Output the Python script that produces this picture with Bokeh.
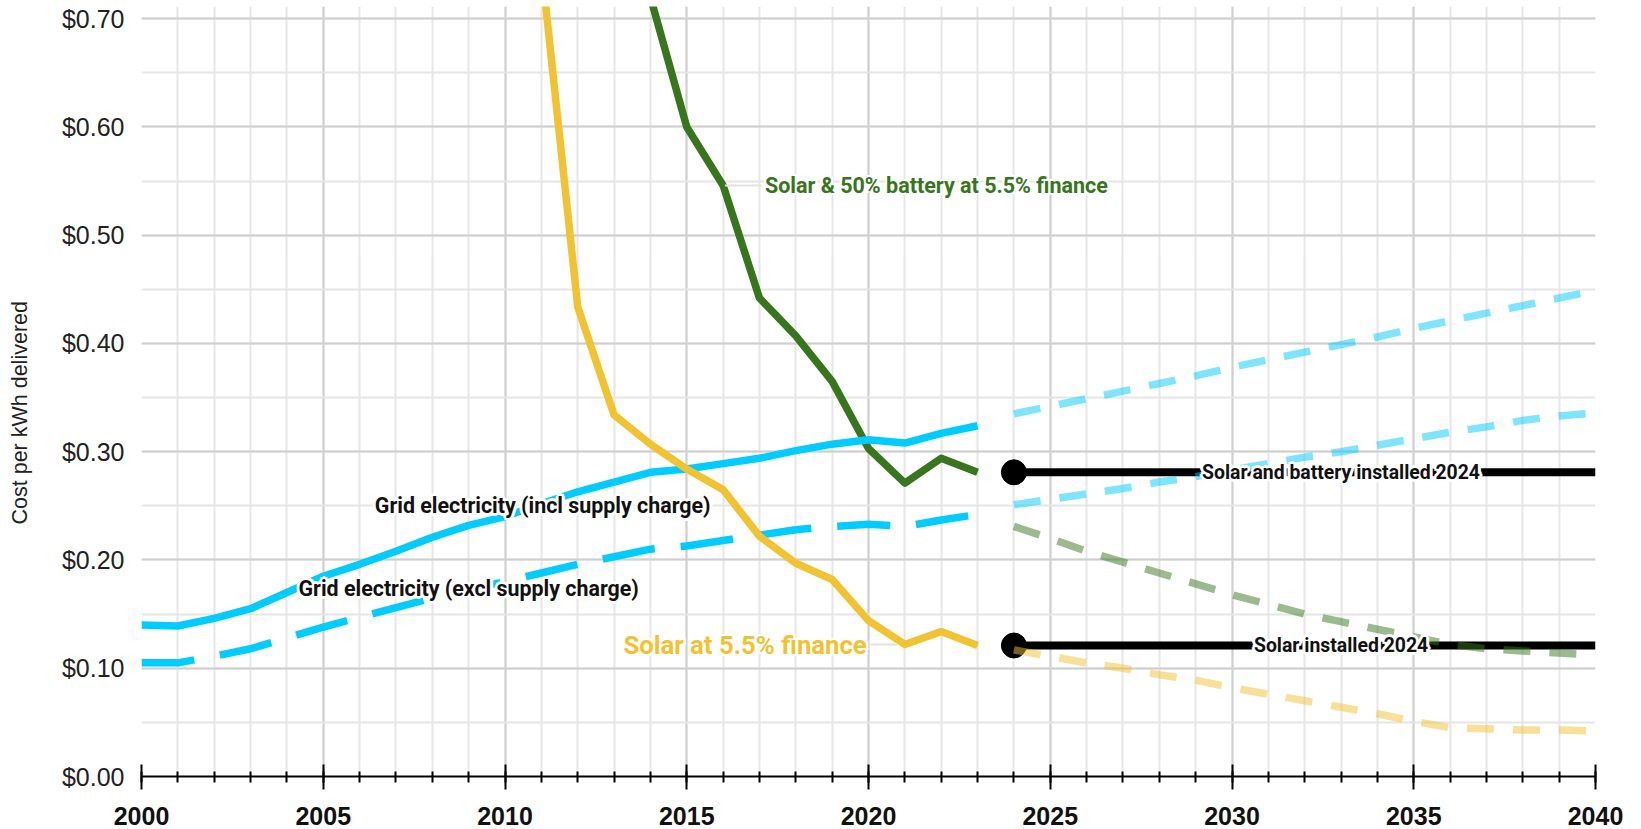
import math
from bokeh.plotting import figure
from bokeh.layouts import row
from bokeh.models import FixedTicker, PrintfTickFormatter, Range1d
from bokeh.embed import file_html
from bokeh.resources import INLINE
from bokeh.core.properties import value

# ---------------- data ----------------
hist_years = list(range(2000, 2024))
grid_incl = [0.140, 0.139, 0.146, 0.155, 0.170, 0.185, 0.196, 0.208, 0.221, 0.232,
             0.240, 0.252, 0.263, 0.272, 0.281, 0.284, 0.289, 0.294, 0.301, 0.307,
             0.311, 0.308, 0.317, 0.324]
grid_excl = [0.105, 0.105, 0.111, 0.118, 0.128, 0.138, 0.147, 0.156, 0.165, 0.173,
             0.180, 0.188, 0.196, 0.203, 0.210, 0.213, 0.218, 0.223, 0.228, 0.231,
             0.233, 0.231, 0.237, 0.242]
solar_years = list(range(2011, 2024))
solar = [0.750, 0.434, 0.334, 0.307, 0.284, 0.265, 0.222, 0.197, 0.182, 0.144,
         0.122, 0.134, 0.121]
sb_years = list(range(2014, 2024))
solar_batt = [0.720, 0.600, 0.546, 0.442, 0.407, 0.365, 0.303, 0.271, 0.294, 0.281]

proj_years = list(range(2024, 2041))
grid_incl_proj = [0.335, 0.342, 0.349, 0.356, 0.363, 0.370, 0.378, 0.385, 0.392,
                  0.399, 0.406, 0.414, 0.421, 0.428, 0.435, 0.442, 0.449]
grid_excl_proj = [0.251, 0.256, 0.261, 0.266, 0.272, 0.277, 0.283, 0.289, 0.295,
                  0.300, 0.306, 0.312, 0.318, 0.323, 0.329, 0.333, 0.336]
solar_batt_proj = [0.231, 0.220, 0.208, 0.198, 0.188, 0.178, 0.168, 0.159, 0.150,
                   0.143, 0.136, 0.129, 0.122, 0.118, 0.116, 0.114, 0.112]
solar_proj = [0.117, 0.111, 0.105, 0.100, 0.094, 0.089, 0.082, 0.076, 0.070,
              0.064, 0.058, 0.051, 0.045, 0.044, 0.043, 0.043, 0.042]

installed_years = [2024, 2040]
solar_batt_installed = [0.281, 0.281]
solar_installed = [0.121, 0.121]

x_ticks = [2000, 2005, 2010, 2015, 2020, 2025, 2030, 2035, 2040]
y_ticks = [0.0, 0.1, 0.2, 0.3, 0.4, 0.5, 0.6, 0.7]
y_title = "Cost per kWh delivered"

CYAN = "#00ccff"
GREEN = "#38761d"
YELLOW = "#f1c232"

Y_END = 0.7113
TITLE_W = 38

# ---------------- narrow strip holding the vertical axis title ----------------
pt = figure(width=TITLE_W, height=829, x_range=Range1d(0, 1), y_range=Range1d(0, Y_END),
            output_backend="svg", toolbar_location=None,
            min_border_left=0, min_border_right=0, min_border_top=6, min_border_bottom=53)
pt.axis.visible = False
pt.grid.visible = False
pt.outline_line_color = None
pt.text(x=[0.5], y=[0.336], text=[y_title], angle=math.pi / 2,
        text_font=value("Liberation Sans"), text_font_size="21.5px",
        text_color="#222222", text_align="center", text_baseline="middle")

# ---------------- main figure ----------------
p = figure(width=1641 - TITLE_W, height=829,
           x_range=Range1d(2000, 2040), y_range=Range1d(0, Y_END),
           output_backend="svg", toolbar_location=None,
           min_border_left=141 - TITLE_W, min_border_right=46,
           min_border_top=6, min_border_bottom=53)
p.outline_line_color = None
p.background_fill_color = "white"

xt = FixedTicker(ticks=x_ticks, minor_ticks=list(range(2000, 2041)))
yt = FixedTicker(ticks=y_ticks, minor_ticks=[i * 0.05 for i in range(15)])
p.xaxis.ticker = xt
p.yaxis.ticker = yt
p.yaxis.formatter = PrintfTickFormatter(format="$%.2f")

p.xaxis.axis_line_color = "black"
p.xaxis.axis_line_width = 2
p.xaxis.major_tick_line_color = "black"
p.xaxis.major_tick_line_width = 2
p.xaxis.major_tick_in = 12
p.xaxis.major_tick_out = 13
p.xaxis.minor_tick_line_color = "black"
p.xaxis.minor_tick_line_width = 2
p.xaxis.minor_tick_in = 5
p.xaxis.minor_tick_out = 6
p.xaxis.major_label_text_font = "Liberation Sans"
p.xaxis.major_label_text_font_style = "bold"
p.xaxis.major_label_text_font_size = "25px"
p.xaxis.major_label_text_color = "#111111"
p.xaxis.major_label_text_line_height = 0.8
p.xaxis.major_label_standoff = 17

p.yaxis.axis_line_color = None
p.yaxis.major_tick_line_color = None
p.yaxis.minor_tick_line_color = None
p.yaxis.major_label_text_font = "Liberation Sans"
p.yaxis.major_label_text_font_size = "25px"
p.yaxis.major_label_text_color = "#222222"
p.yaxis.major_label_standoff = 11

p.xgrid.ticker = xt
p.ygrid.ticker = yt
for g in (p.xgrid, p.ygrid):
    g.grid_line_color = "#cfcfcf"
    g.grid_line_width = 2
    g.minor_grid_line_color = "#e6e6e6"
    g.minor_grid_line_width = 2

# ---------------- historical lines ----------------
LW = 7.5
p.line(sb_years, solar_batt, line_color=GREEN, line_width=LW, line_join="round")
p.line(hist_years, grid_incl, line_color=CYAN, line_width=LW, line_join="round")
p.line(hist_years, grid_excl, line_color=CYAN, line_width=LW, line_dash="53 26",
       line_join="round")
p.line(solar_years, solar, line_color=YELLOW, line_width=LW, line_join="round")

# ---------------- installed 2024 reference lines ----------------
p.line(installed_years, solar_batt_installed, line_color="black", line_width=8)
p.line(installed_years, solar_installed, line_color="black", line_width=8)
p.scatter([installed_years[0]] * 2,
          [solar_batt_installed[0], solar_installed[0]],
          size=25, color="black")

# ---------------- projections ----------------
for ys, col in ((grid_incl_proj, CYAN), (grid_excl_proj, CYAN),
                (solar_batt_proj, GREEN), (solar_proj, YELLOW)):
    p.line(proj_years, ys, line_color=col, line_width=LW, line_alpha=0.5,
           line_dash="27 19")

# ---------------- leader lines for labels ----------------
p.line([sb_years[2] + 0.05, 2017.05], [solar_batt[2]] * 2, line_color="#e2e2e2", line_width=2)
p.line([2020.05, solar_years[10] - 0.2], [solar[10]] * 2, line_color="#e2e2e2", line_width=2)

# ---------------- text labels ----------------
labels = [
    # x, y, text, color, size, align, halo
    (2017.15, 0.5462, "Solar & 50% battery at 5.5% finance", GREEN, "21.5px", "left", 2),
    (2006.42, 0.2505, "Grid electricity (incl supply charge)", "#111111", "21.4px", "left", 3),
    (2004.32, 0.1735, "Grid electricity (excl supply charge)", "#111111", "21.4px", "left", 3),
    (2019.95, 0.1218, "Solar at 5.5% finance", YELLOW, "25.7px", "right", 2),
    (2033.0, solar_batt_installed[0], "Solar and battery installed 2024", "#111111", "19.4px", "center", 3),
    (2033.0, solar_installed[0], "Solar installed 2024", "#111111", "19.4px", "center", 3),
]

offsets = []
for r in (1.5, 3.0):
    for dx, dy in ((1, 0), (-1, 0), (0, 1), (0, -1), (0.7, 0.7), (-0.7, 0.7), (0.7, -0.7), (-0.7, -0.7)):
        offsets.append((dx * r, dy * r))

for lx, ly, txt, col, size, align, halo in labels:
    for dx, dy in offsets:
        if abs(dx) > halo + 0.1 or abs(dy) > halo + 0.1:
            continue
        p.text(x=[lx], y=[ly], text=[txt], x_offset=dx, y_offset=dy,
               text_font=value("Roboto"), text_font_style="bold",
               text_font_size=size, text_color="white",
               text_align=align, text_baseline="middle")
    p.text(x=[lx], y=[ly], text=[txt],
           text_font=value("Roboto"), text_font_style="bold",
           text_font_size=size, text_color=col,
           text_align=align, text_baseline="middle")

layout = row(pt, p)
open("out.html", "w").write(file_html(layout, INLINE))
